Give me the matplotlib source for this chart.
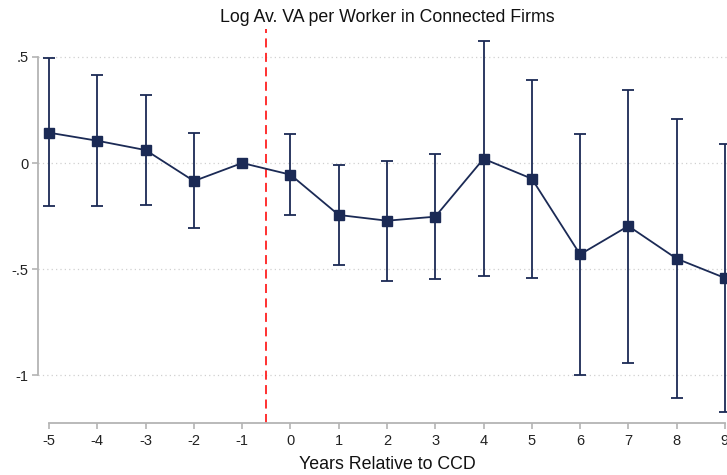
import matplotlib
matplotlib.use("Agg")
import matplotlib.pyplot as plt
import numpy as np

years = [-5, -4, -3, -2, -1, 0, 1, 2, 3, 4, 5, 6, 7, 8, 9]
coef = [0.143, 0.105, 0.061, -0.085, 0.0, -0.055, -0.245, -0.272, -0.253, 0.020, -0.074, -0.431, -0.297, -0.451, -0.542]
ci_hi = [0.497, 0.415, 0.321, 0.143, 0.0, 0.135, -0.011, 0.009, 0.041, 0.574, 0.392, 0.137, 0.346, 0.209, 0.091]
ci_lo = [-0.201, -0.201, -0.198, -0.308, 0.0, -0.244, -0.481, -0.555, -0.547, -0.533, -0.541, -0.998, -0.942, -1.108, -1.175]
ytick_vals = [0.5, 0.0, -0.5, -1.0]
ytick_labels = [".5", "0", "-.5", "-1"]
title = "Log Av. VA per Worker in Connected Firms"
xlabel = "Years Relative to CCD"

plt.rcParams['font.family'] = ['Liberation Sans', 'DejaVu Sans']

W, H = 727, 475
fig = plt.figure(figsize=(W / 100, H / 100), dpi=100)
left_px, right_px, top_px, bot_px = 38, 736, 29, 423
ax = fig.add_axes([left_px / W, 1 - bot_px / H, (right_px - left_px) / W, (bot_px - top_px) / H])

navy = "#1b2a55"
x = np.array(years)
c = np.array(coef)
hi = np.array(ci_hi)
lo = np.array(ci_lo)
mask = x != -1
ax.errorbar(x[mask], c[mask], yerr=[c[mask] - lo[mask], hi[mask] - c[mask]], fmt='none',
            ecolor=navy, elinewidth=1.3, capsize=4.5, capthick=1.3, zorder=3)
ax.plot(x, c, color=navy, lw=1.3, marker='s', markersize=7, zorder=4)

ax.axvline(-0.5, color='#ff2020', lw=1.3, ls=(0, (5, 3)), zorder=2)

ax.set_xlim(-5.23, 9.23)
ax.set_ylim(-1.226, 0.632)
ax.set_xticks(years)
ax.set_xticklabels([str(v) for v in years])
ax.set_yticks(ytick_vals)
ax.set_yticklabels(ytick_labels)
for v in ytick_vals:
    ax.axhline(v, color='#d0d0d0', lw=0.9, ls=(0, (1, 2.5)), zorder=1)

for s in ['top', 'right']:
    ax.spines[s].set_visible(False)
gray = '#b4b4b4'
ax.spines['left'].set_color(gray)
ax.spines['bottom'].set_color(gray)
ax.spines['left'].set_linewidth(1.3)
ax.spines['bottom'].set_linewidth(1.3)
ax.spines['left'].set_bounds(-1.0, 0.5)
ax.spines['bottom'].set_bounds(-5, 9)
ax.tick_params(axis='both', colors=gray, labelcolor='#222222', length=4, width=1.2, labelsize=10.5)
ax.tick_params(axis='y', pad=3)
ax.tick_params(axis='x', pad=4)

fig.text((38 + 736) / 2 / W, 1 - 18 / H, title, ha='center', va='center', fontsize=12.8, color='#111111')
ax.set_xlabel(xlabel, fontsize=12.8, color='#111111', labelpad=6)

fig.savefig("out.png", dpi=100)
